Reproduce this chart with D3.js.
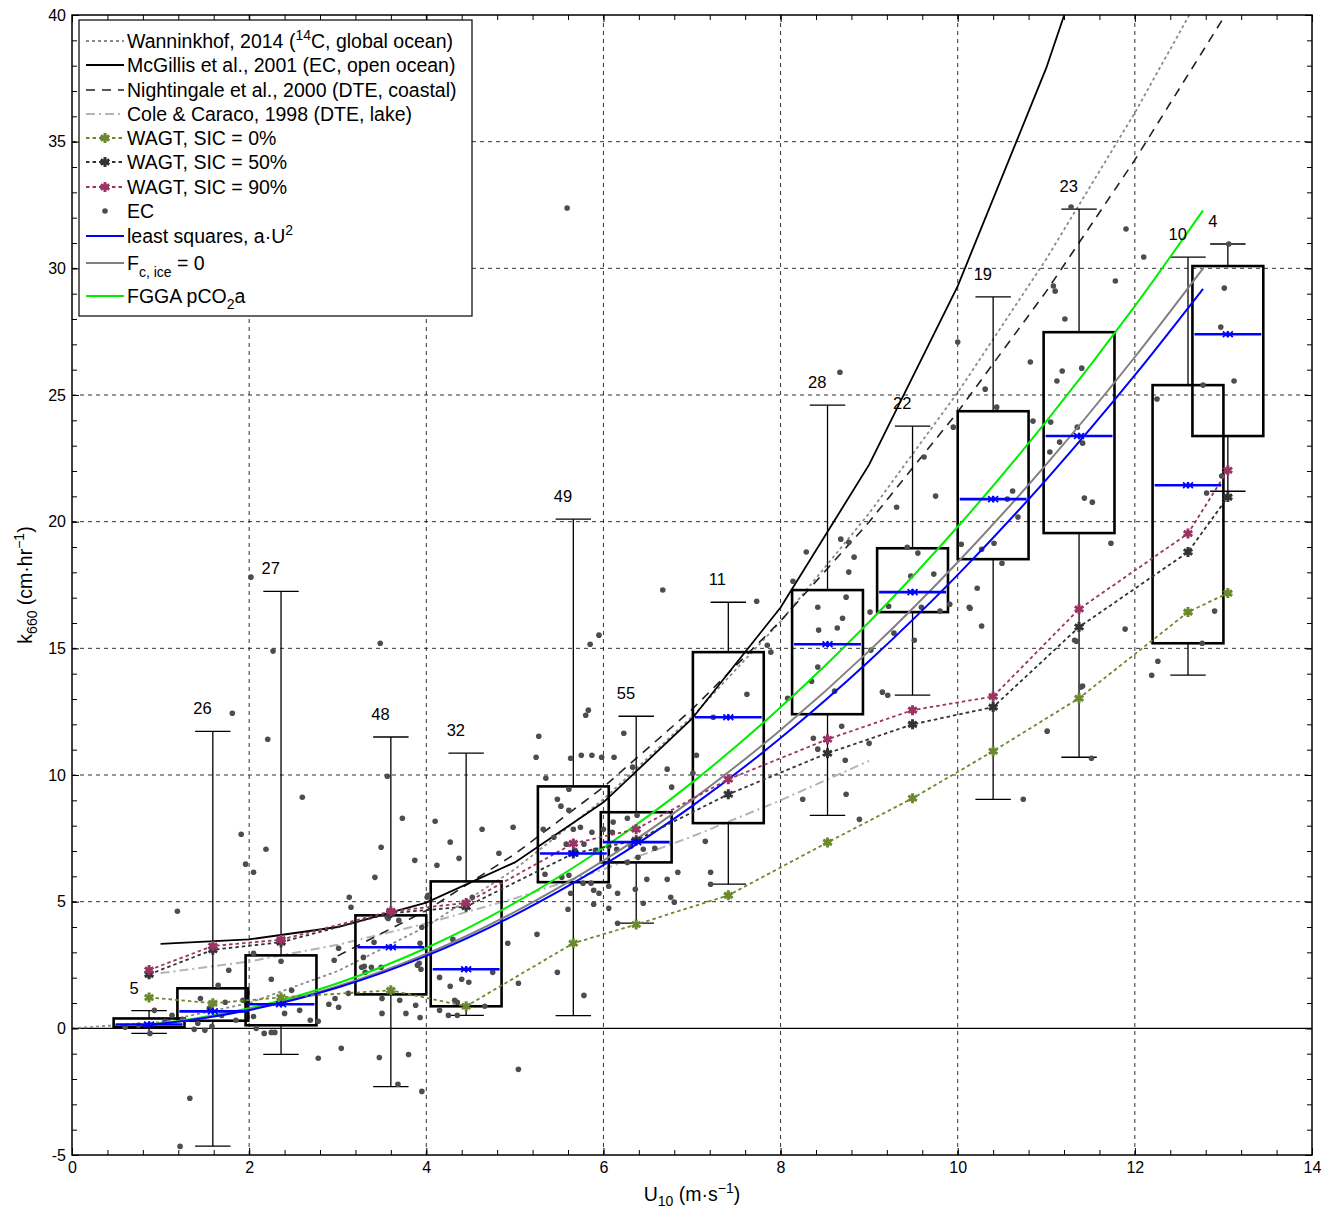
<!DOCTYPE html>
<html>
<head>
<meta charset="utf-8">
<script src="https://cdn.jsdelivr.net/npm/d3@7"></script>
<style>
  body { margin: 0; background: #fff; }
  text { font-family: "Liberation Sans", Arial, Helvetica, sans-serif; }
</style>
</head>
<body>
<div id="chart"></div>
<script>
// ---- data ----
// bin centres (U10) and box statistics of the EC k660 values
var binU = [0.87, 1.59, 2.36, 3.60, 4.45, 5.66, 6.37, 7.41, 8.53, 9.49, 10.40, 11.37, 12.60, 13.05];
var binQ1 = [0.04, 0.30, 0.12, 1.34, 0.87, 5.77, 6.55, 8.10, 12.40, 16.43, 18.52, 19.55, 15.20, 23.38];
var binQ3 = [0.39, 1.58, 2.88, 4.46, 5.80, 9.55, 8.53, 14.85, 17.30, 18.95, 24.36, 27.48, 25.39, 30.09];
var binMed = [0.15, 0.67, 0.95, 3.20, 2.33, 6.90, 7.35, 12.28, 15.16, 17.22, 20.89, 23.38, 21.44, 27.40];
var binLo = [-0.20, -4.65, -1.03, -2.30, 0.51, 0.50, 4.15, 5.69, 8.41, 13.15, 9.04, 10.70, 13.94, 21.20];
var binHi = [0.70, 11.72, 17.25, 11.50, 10.86, 20.10, 12.32, 16.82, 24.60, 23.77, 28.87, 32.34, 30.44, 30.96];
var binN = [5, 26, 27, 48, 32, 49, 55, 11, 28, 22, 19, 23, 10, 4];

// WAGT model at the bin centres
var wagt0 = [1.22, 0.99, 1.22, 1.50, 0.87, 3.36, 4.10, 5.25, 7.34, 9.08, 10.94, 13.03, 16.43, 17.18];
var wagt50 = [2.13, 3.10, 3.40, 4.55, 4.80, 6.90, 7.42, 9.24, 10.86, 12.00, 12.68, 15.84, 18.80, 20.97];
var wagt90 = [2.30, 3.25, 3.50, 4.62, 4.95, 7.30, 7.86, 9.83, 11.41, 12.56, 13.10, 16.55, 19.53, 22.03];

// published parameterisations
var wannU = [0, 1, 2, 3, 4, 5, 6, 7, 8, 9, 10, 11, 12, 13];
var wannK = [0, 0.25, 1.00, 2.26, 4.02, 6.28, 9.04, 12.30, 16.06, 20.33, 25.10, 30.37, 36.14, 42.42];
var mcgU = [1, 2, 3, 4, 5, 6, 7, 8, 9, 10, 11, 12];
var mcgK = [3.33, 3.51, 4.00, 4.96, 6.55, 8.92, 12.22, 16.61, 22.25, 29.30, 37.91, 48.23];
var nightU = [3, 4, 5, 6, 7, 8, 9, 10, 11, 12, 13, 14];
var nightK = [2.86, 4.65, 6.88, 9.52, 12.59, 16.08, 19.99, 24.33, 29.09, 34.28, 39.88, 45.91];
var coleU = [1, 2, 3, 4, 5, 6, 7, 8, 9];
var coleK = [2.18, 2.64, 3.30, 4.14, 5.13, 6.28, 7.57, 9.00, 10.56];

// fitted curves
var fitU = [0.79, 1, 2, 3, 4, 5, 6, 7, 8, 9, 10, 11, 12, 12.77];
var lsqK = [0.11, 0.18, 0.72, 1.61, 2.86, 4.48, 6.44, 8.77, 11.46, 14.50, 17.90, 21.66, 25.78, 29.19];
var fcIceK = [0.11, 0.18, 0.74, 1.66, 2.94, 4.60, 6.62, 9.02, 11.78, 14.90, 18.40, 22.26, 26.50, 30.00];
var fggaK = [0.12, 0.20, 0.79, 1.78, 3.17, 4.95, 7.13, 9.70, 12.67, 16.04, 19.80, 23.96, 28.51, 32.29];

// individual EC estimates [U10, k660]
var ecPoints = [
  [1.19, 4.62], [1.33, -2.76], [1.22, -4.66], [0.88, -0.20], [0.93, 0.71], [0.75, 0.12], [1.05, 0.28],
  [0.60, 0.04], [1.13, 0.51], [1.38, -0.04], [1.42, 0.20], [1.45, 1.18], [1.65, 1.70], [1.73, 1.03],
  [1.77, 2.29], [1.93, 1.11], [2.05, 0.47], [2.08, 0.00], [2.17, -0.20], [2.25, -0.16], [2.29, -0.16],
  [2.25, 1.94], [2.36, 2.65], [2.40, 0.59], [2.05, 2.96], [1.81, 12.44], [2.21, 11.41], [1.91, 7.66],
  [2.19, 7.07], [1.96, 6.48], [2.05, 6.16], [2.02, 17.81], [2.27, 14.89], [1.50, -0.08], [1.58, 0.08],
  [1.85, 0.32], [1.69, 0.51], [1.25, 0.36], [1.55, 0.79], [2.57, 0.71], [2.69, 0.32], [2.48, 1.50],
  [2.60, 9.12], [2.78, -1.18], [2.78, 0.28], [2.90, 0.95], [2.97, 1.18], [3.01, 0.83], [2.96, 2.69],
  [3.04, -0.79], [3.01, 3.16], [3.13, 5.17], [3.15, 4.78], [3.30, 2.45], [3.31, 2.21], [3.47, -1.15],
  [3.50, 0.59], [3.41, 3.40], [3.56, 4.38], [3.68, -2.21], [3.77, 0.59], [3.80, -1.03], [3.88, 0.91],
  [3.93, 0.43], [3.94, 2.33], [3.92, 2.57], [3.95, -2.49], [3.93, 3.36], [4.15, 2.01], [4.27, 1.66],
  [4.25, 0.51], [4.35, 0.51], [4.32, 1.11], [4.40, 1.94], [4.48, 1.82], [4.66, 0.87], [4.75, 2.21],
  [4.92, 3.36], [5.04, 1.78], [5.04, -1.62], [4.01, 5.17], [4.52, 5.17], [4.30, 3.51], [3.56, 9.95],
  [3.73, 8.29], [3.49, 7.15], [3.42, 5.96], [4.10, 8.17], [4.27, 7.35], [4.37, 6.71], [4.12, 6.44],
  [3.87, 6.63], [4.63, 7.86], [4.98, 7.94], [4.82, 6.91], [5.25, 3.71], [4.02, 5.25], [3.95, 3.99],
  [3.57, 4.34], [3.69, 4.26], [3.29, 2.80], [3.27, 2.41], [3.38, 2.41], [3.49, 2.41], [3.90, 2.49],
  [3.12, 1.38], [3.50, 1.18], [3.70, 1.11], [4.15, 0.71], [4.35, 1.03], [3.48, 15.20],
  [5.35, 9.87], [6.72, 10.23], [7.01, 10.07], [6.77, 9.52], [6.33, 10.31], [5.48, 9.04], [5.61, 9.44],
  [5.52, 8.77], [5.61, 8.61], [5.66, 7.86], [5.74, 7.94], [5.87, 7.74], [6.00, 7.86], [6.11, 8.14],
  [6.27, 8.29], [6.38, 8.41], [6.10, 7.74], [5.32, 7.86], [5.44, 7.54], [5.58, 7.27], [5.68, 7.03],
  [5.78, 7.27], [5.91, 7.03], [6.06, 7.19], [6.15, 7.07], [6.31, 7.19], [6.45, 7.07], [6.58, 7.11],
  [5.34, 6.08], [5.53, 5.96], [5.61, 6.04], [5.77, 5.73], [5.86, 5.73], [5.89, 5.45], [5.95, 5.33],
  [6.06, 5.61], [5.89, 4.90], [6.06, 4.74], [6.16, 5.33], [6.36, 5.49], [6.45, 4.94], [6.49, 5.88],
  [6.72, 5.88], [6.76, 5.17], [6.80, 4.98], [6.84, 6.16], [7.15, 7.38], [7.21, 6.16], [7.21, 5.69],
  [5.60, 4.70], [6.16, 4.15], [5.48, 2.21], [5.78, 1.30], [6.27, 6.55], [6.39, 6.75], [5.63, 5.33],
  [5.95, 15.52], [5.85, 15.16], [5.83, 12.56], [5.80, 12.36], [6.67, 17.30], [5.27, 11.53], [5.24, 10.70],
  [5.63, 10.66], [5.75, 10.78], [5.87, 10.78], [5.98, 10.70], [6.12, 10.70], [6.23, 11.65], [7.05, 10.78],
  [5.59, 32.38],
  [7.62, 13.19], [7.73, 16.86], [7.85, 15.12], [7.89, 14.85], [8.29, 18.80], [8.14, 17.65], [8.25, 9.04],
  [8.37, 11.45], [8.42, 16.62], [8.83, 18.60], [8.77, 18.01], [7.24, 12.28], [8.74, 17.02], [8.70, 16.19],
  [8.64, 15.80], [8.43, 15.72], [8.42, 14.26], [8.35, 13.70], [8.08, 13.03], [8.61, 13.31], [9.01, 16.43],
  [9.02, 14.93], [9.15, 13.27], [9.21, 13.15], [9.28, 15.60], [9.43, 18.99], [8.69, 11.92], [8.42, 11.02],
  [8.73, 10.58], [8.74, 9.24], [8.89, 8.25], [9.00, 11.25], [8.67, 25.90], [8.68, 19.31], [8.77, 19.19],
  [9.31, 20.57], [9.55, 18.76], [9.73, 17.93], [9.47, 17.85], [9.22, 16.66], [9.59, 16.62], [9.80, 16.47],
  [9.51, 15.32], [9.75, 21.01], [9.62, 22.55], [10.13, 16.62], [10.27, 15.88], [9.91, 16.74],
  [10.00, 27.09], [10.31, 25.23], [10.44, 24.52], [10.82, 26.30], [11.08, 29.30], [11.10, 29.10],
  [11.21, 28.00], [11.78, 29.50], [12.10, 30.45], [11.18, 25.95], [11.40, 26.06], [11.12, 25.55],
  [11.05, 23.93], [11.35, 23.73], [11.15, 23.14], [11.41, 23.10], [11.04, 22.75], [11.43, 20.93],
  [11.52, 20.77], [11.73, 19.15], [11.89, 15.76], [11.41, 13.51], [11.32, 15.32], [10.85, 23.97],
  [10.62, 21.21], [10.56, 20.89], [10.68, 20.18], [10.41, 19.15], [10.50, 18.36], [10.27, 18.91],
  [10.04, 19.11], [9.95, 23.73], [10.22, 17.37], [10.14, 16.58], [12.25, 24.84], [12.77, 25.39],
  [13.01, 29.22], [12.97, 27.68], [13.12, 25.55], [12.81, 21.13], [12.90, 16.47], [12.76, 15.20],
  [12.26, 14.49], [12.19, 13.94], [13.06, 30.96], [11.90, 31.55], [11.28, 32.42], [12.98, 21.80],
  [11.34, 15.28], [11.39, 13.47], [11.01, 11.73], [11.51, 10.66], [10.74, 9.04]
];

var xTickVals = [0, 2, 4, 6, 8, 10, 12, 14];
var yTickVals = [-5, 0, 5, 10, 15, 20, 25, 30, 35, 40];

// ---- layout ----
var svgWidth = 1329;
var svgHeight = 1213;
var margin = { top: 15, right: 17, bottom: 58, left: 72 };
var width = svgWidth - margin.left - margin.right;
var height = svgHeight - margin.top - margin.bottom;

var svg = d3.select("#chart").append("svg")
    .attr("width", svgWidth)
    .attr("height", svgHeight);

svg.append("rect").attr("width", svgWidth).attr("height", svgHeight).attr("fill", "white");

var chartGroup = svg.append("g")
    .attr("transform", `translate(${margin.left}, ${margin.top})`);

var x = d3.scaleLinear().domain([0, 14]).range([0, width]);
var y = d3.scaleLinear().domain([-5, 40]).range([height, 0]);

chartGroup.append("clipPath").attr("id", "plotClip")
    .append("rect").attr("width", width).attr("height", height);

// colours
var cWagt0 = "#6b8a2e", cWagt50 = "#333333", cWagt90 = "#9b3465";

// grid
var gridGroup = chartGroup.append("g");
xTickVals.slice(1, -1).forEach(v => {
    gridGroup.append("line")
        .attr("x1", x(v)).attr("x2", x(v)).attr("y1", 0).attr("y2", height)
        .attr("stroke", "#000").attr("stroke-width", 1).attr("stroke-dasharray", "4,4").attr("opacity", 0.8);
});
yTickVals.slice(2, -1).forEach(v => {
    gridGroup.append("line")
        .attr("x1", 0).attr("x2", width).attr("y1", y(v)).attr("y2", y(v))
        .attr("stroke", "#000").attr("stroke-width", 1).attr("stroke-dasharray", "4,4").attr("opacity", 0.8);
});
// zero line
chartGroup.append("line")
    .attr("x1", 0).attr("x2", width).attr("y1", y(0)).attr("y2", y(0))
    .attr("stroke", "#000").attr("stroke-width", 1.2);

var plot = chartGroup.append("g").attr("clip-path", "url(#plotClip)");

var line = d3.line().x(d => x(d[0])).y(d => y(d[1]));
var smooth = d3.line().x(d => x(d[0])).y(d => y(d[1])).curve(d3.curveMonotoneX);
var zip = (us, ks) => us.map((u, i) => [u, ks[i]]);

// reference parameterisations
plot.append("path").attr("d", line(zip(coleU, coleK)))
    .attr("fill", "none").attr("stroke", "#b4b4b4").attr("stroke-width", 2).attr("stroke-dasharray", "9,4,2,4");
plot.append("path").attr("d", line(zip(wannU, wannK)))
    .attr("fill", "none").attr("stroke", "#8a8a8a").attr("stroke-width", 1.8).attr("stroke-dasharray", "3,3");
plot.append("path").attr("d", line(zip(nightU, nightK)))
    .attr("fill", "none").attr("stroke", "#222").attr("stroke-width", 1.6).attr("stroke-dasharray", "9,7");
plot.append("path").attr("d", line(zip(mcgU, mcgK)))
    .attr("fill", "none").attr("stroke", "#000").attr("stroke-width", 1.8);

// boxes
var boxHalf = 0.4, capHalf = 0.2;
var bins = binU.map((u, i) => ({ u: u, q1: binQ1[i], q3: binQ3[i], med: binMed[i], lo: binLo[i], hi: binHi[i], n: binN[i] }));

var boxGroup = plot.append("g");
bins.forEach(b => {
    var g = boxGroup.append("g");
    g.append("line").attr("x1", x(b.u)).attr("x2", x(b.u)).attr("y1", y(b.q3)).attr("y2", y(b.hi))
        .attr("stroke", "#000").attr("stroke-width", 1.3);
    g.append("line").attr("x1", x(b.u)).attr("x2", x(b.u)).attr("y1", y(b.q1)).attr("y2", y(b.lo))
        .attr("stroke", "#000").attr("stroke-width", 1.3);
    [b.hi, b.lo].forEach(v => {
        g.append("line").attr("x1", x(b.u - capHalf)).attr("x2", x(b.u + capHalf)).attr("y1", y(v)).attr("y2", y(v))
            .attr("stroke", "#000").attr("stroke-width", 1.3);
    });
    g.append("rect")
        .attr("x", x(b.u - boxHalf)).attr("width", x(b.u + boxHalf) - x(b.u - boxHalf))
        .attr("y", y(b.q3)).attr("height", y(b.q1) - y(b.q3))
        .attr("fill", "none").attr("stroke", "#000").attr("stroke-width", 2.6);
});

// EC points
plot.append("g").selectAll("circle")
    .data(ecPoints)
    .enter()
    .append("circle")
    .attr("cx", d => x(d[0]))
    .attr("cy", d => y(d[1]))
    .attr("r", 2.8)
    .attr("fill", "#4d4d4d");

// fits
plot.append("path").attr("d", smooth(zip(fitU, fggaK)))
    .attr("fill", "none").attr("stroke", "#00ee00").attr("stroke-width", 2);
plot.append("path").attr("d", smooth(zip(fitU, fcIceK)))
    .attr("fill", "none").attr("stroke", "#808080").attr("stroke-width", 2);
plot.append("path").attr("d", smooth(zip(fitU, lsqK)))
    .attr("fill", "none").attr("stroke", "#0000ff").attr("stroke-width", 2);

// WAGT model
var asterisk = d3.symbolAsterisk || d3.symbolCross;
var times = d3.symbolTimes || d3.symbolX || d3.symbolCross;
[[wagt0, cWagt0], [wagt50, cWagt50], [wagt90, cWagt90]].forEach(s => {
    var pts = zip(binU, s[0]);
    plot.append("path").attr("d", line(pts))
        .attr("fill", "none").attr("stroke", s[1]).attr("stroke-width", 1.8).attr("stroke-dasharray", "3.5,3");
    plot.append("g").selectAll("path").data(pts).enter().append("path")
        .attr("transform", d => `translate(${x(d[0])},${y(d[1])})`)
        .attr("d", d3.symbol().type(asterisk).size(70))
        .attr("fill", s[1]).attr("stroke", s[1]).attr("stroke-width", 3);
});

// medians
bins.forEach(b => {
    plot.append("line")
        .attr("x1", x(b.u - boxHalf) + 2).attr("x2", x(b.u + boxHalf) - 2).attr("y1", y(b.med)).attr("y2", y(b.med))
        .attr("stroke", "#0000ff").attr("stroke-width", 2.6);
    [-2, 2].forEach(off => {
        plot.append("path")
            .attr("transform", `translate(${x(b.u) + off},${y(b.med)})`)
            .attr("d", d3.symbol().type(times).size(24))
            .attr("fill", "none").attr("stroke", "#0000ff").attr("stroke-width", 1.8);
    });
});

// counts
chartGroup.append("g").selectAll("text")
    .data(bins)
    .enter()
    .append("text")
    .attr("x", d => x(d.u - 0.22))
    .attr("y", d => y(d.hi) - 17)
    .style("font-size", "16.5px")
    .text(d => d.n);

// axes, ticks inward on all four sides
var xMinor = d3.range(0, 14.001, 0.4);
var yMinor = d3.range(-5, 40.001, 1);
function tickStyle(g) {
    g.select(".domain").remove();
    g.selectAll("line").attr("stroke", "#000").attr("stroke-width", 1);
    g.selectAll("text").style("font-size", "16px").attr("fill", "#000")
        .style("font-family", "'Liberation Sans', Arial, sans-serif");
}
chartGroup.append("g").attr("transform", `translate(0,${height})`)
    .call(d3.axisBottom(x).tickValues(xMinor).tickSize(-5).tickFormat("")).call(tickStyle);
chartGroup.append("g")
    .call(d3.axisTop(x).tickValues(xMinor).tickSize(-5).tickFormat("")).call(tickStyle);
chartGroup.append("g").attr("transform", `translate(0,${height})`)
    .call(d3.axisBottom(x).tickValues(xTickVals).tickSize(-7).tickPadding(7).tickFormat(d3.format("d"))).call(tickStyle);
chartGroup.append("g")
    .call(d3.axisTop(x).tickValues(xTickVals).tickSize(-7).tickFormat("")).call(tickStyle);
chartGroup.append("g")
    .call(d3.axisLeft(y).tickValues(yMinor).tickSize(-5).tickFormat("")).call(tickStyle);
chartGroup.append("g").attr("transform", `translate(${width},0)`)
    .call(d3.axisRight(y).tickValues(yMinor).tickSize(-5).tickFormat("")).call(tickStyle);
chartGroup.append("g")
    .call(d3.axisLeft(y).tickValues(yTickVals).tickSize(-7).tickPadding(6).tickFormat(d => String(d))).call(tickStyle);
chartGroup.append("g").attr("transform", `translate(${width},0)`)
    .call(d3.axisRight(y).tickValues(yTickVals).tickSize(-7).tickFormat("")).call(tickStyle);

chartGroup.append("rect").attr("width", width).attr("height", height)
    .attr("fill", "none").attr("stroke", "#000").attr("stroke-width", 1.5);

// axis titles
var xTitle = svg.append("text")
    .attr("x", margin.left + width / 2).attr("y", 1201)
    .attr("text-anchor", "middle").style("font-size", "19.5px");
xTitle.append("tspan").text("U");
xTitle.append("tspan").attr("dy", 5).style("font-size", "14px").text("10");
xTitle.append("tspan").attr("dy", -5).text(" (m\u00b7s");
xTitle.append("tspan").attr("dy", -8).style("font-size", "14px").text("\u22121");
xTitle.append("tspan").attr("dy", 8).text(")");

var yTitle = svg.append("text")
    .attr("transform", `translate(32, ${margin.top + height / 2}) rotate(-90)`)
    .attr("text-anchor", "middle").style("font-size", "19.5px");
yTitle.append("tspan").text("k");
yTitle.append("tspan").attr("dy", 5).style("font-size", "14px").text("660");
yTitle.append("tspan").attr("dy", -5).text(" (cm\u00b7hr");
yTitle.append("tspan").attr("dy", -8).style("font-size", "14px").text("\u22121");
yTitle.append("tspan").attr("dy", 8).text(")");

// legend
var legend = svg.append("g");
legend.append("rect").attr("x", 79).attr("y", 20).attr("width", 393).attr("height", 296)
    .attr("fill", "white").attr("stroke", "#000").attr("stroke-width", 1.2);

var legendItems = [
    { cy: 41, stroke: "#8a8a8a", dash: "3,3", w: 1.8, parts: [["Wanninkhof, 2014 (", 0], ["14", -8, true], ["C, global ocean)", 8]] },
    { cy: 65, stroke: "#000", dash: null, w: 1.8, parts: [["McGillis et al., 2001 (EC, open ocean)", 0]] },
    { cy: 90, stroke: "#222", dash: "9,7", w: 1.6, parts: [["Nightingale et al., 2000 (DTE, coastal)", 0]] },
    { cy: 114, stroke: "#b4b4b4", dash: "9,4,2,4", w: 2, parts: [["Cole & Caraco, 1998 (DTE, lake)", 0]] },
    { cy: 138, stroke: cWagt0, dash: "3.5,3", w: 1.8, marker: true, parts: [["WAGT, SIC = 0%", 0]] },
    { cy: 162, stroke: cWagt50, dash: "3.5,3", w: 1.8, marker: true, parts: [["WAGT, SIC = 50%", 0]] },
    { cy: 187, stroke: cWagt90, dash: "3.5,3", w: 1.8, marker: true, parts: [["WAGT, SIC = 90%", 0]] },
    { cy: 211, dot: true, parts: [["EC", 0]] },
    { cy: 236, stroke: "#0000ff", dash: null, w: 2, parts: [["least squares, a\u00b7U", 0], ["2", -8, true]] },
    { cy: 263, stroke: "#808080", dash: null, w: 2, parts: [["F", 0], ["c, ice", 7, true], [" = 0", -7]] },
    { cy: 296, stroke: "#00ee00", dash: null, w: 2, parts: [["FGGA pCO", 0], ["2", 6, true], ["a", -6]] }
];

legendItems.forEach(item => {
    if (item.dot) {
        legend.append("circle").attr("cx", 105).attr("cy", item.cy).attr("r", 2.8).attr("fill", "#4d4d4d");
    } else {
        legend.append("line").attr("x1", 86).attr("x2", 124).attr("y1", item.cy).attr("y2", item.cy)
            .attr("stroke", item.stroke).attr("stroke-width", item.w).attr("stroke-dasharray", item.dash);
        if (item.marker) {
            legend.append("path").attr("transform", `translate(105,${item.cy})`)
                .attr("d", d3.symbol().type(asterisk).size(70))
                .attr("fill", item.stroke).attr("stroke", item.stroke).attr("stroke-width", 3);
        }
    }
    var t = legend.append("text").attr("x", 127).attr("y", item.cy + 7).style("font-size", "19.5px");
    item.parts.forEach(p => {
        var ts = t.append("tspan").attr("dy", p[1]).text(p[0]);
        if (p[2]) ts.style("font-size", "14px");
    });
});
</script>
</body>
</html>
